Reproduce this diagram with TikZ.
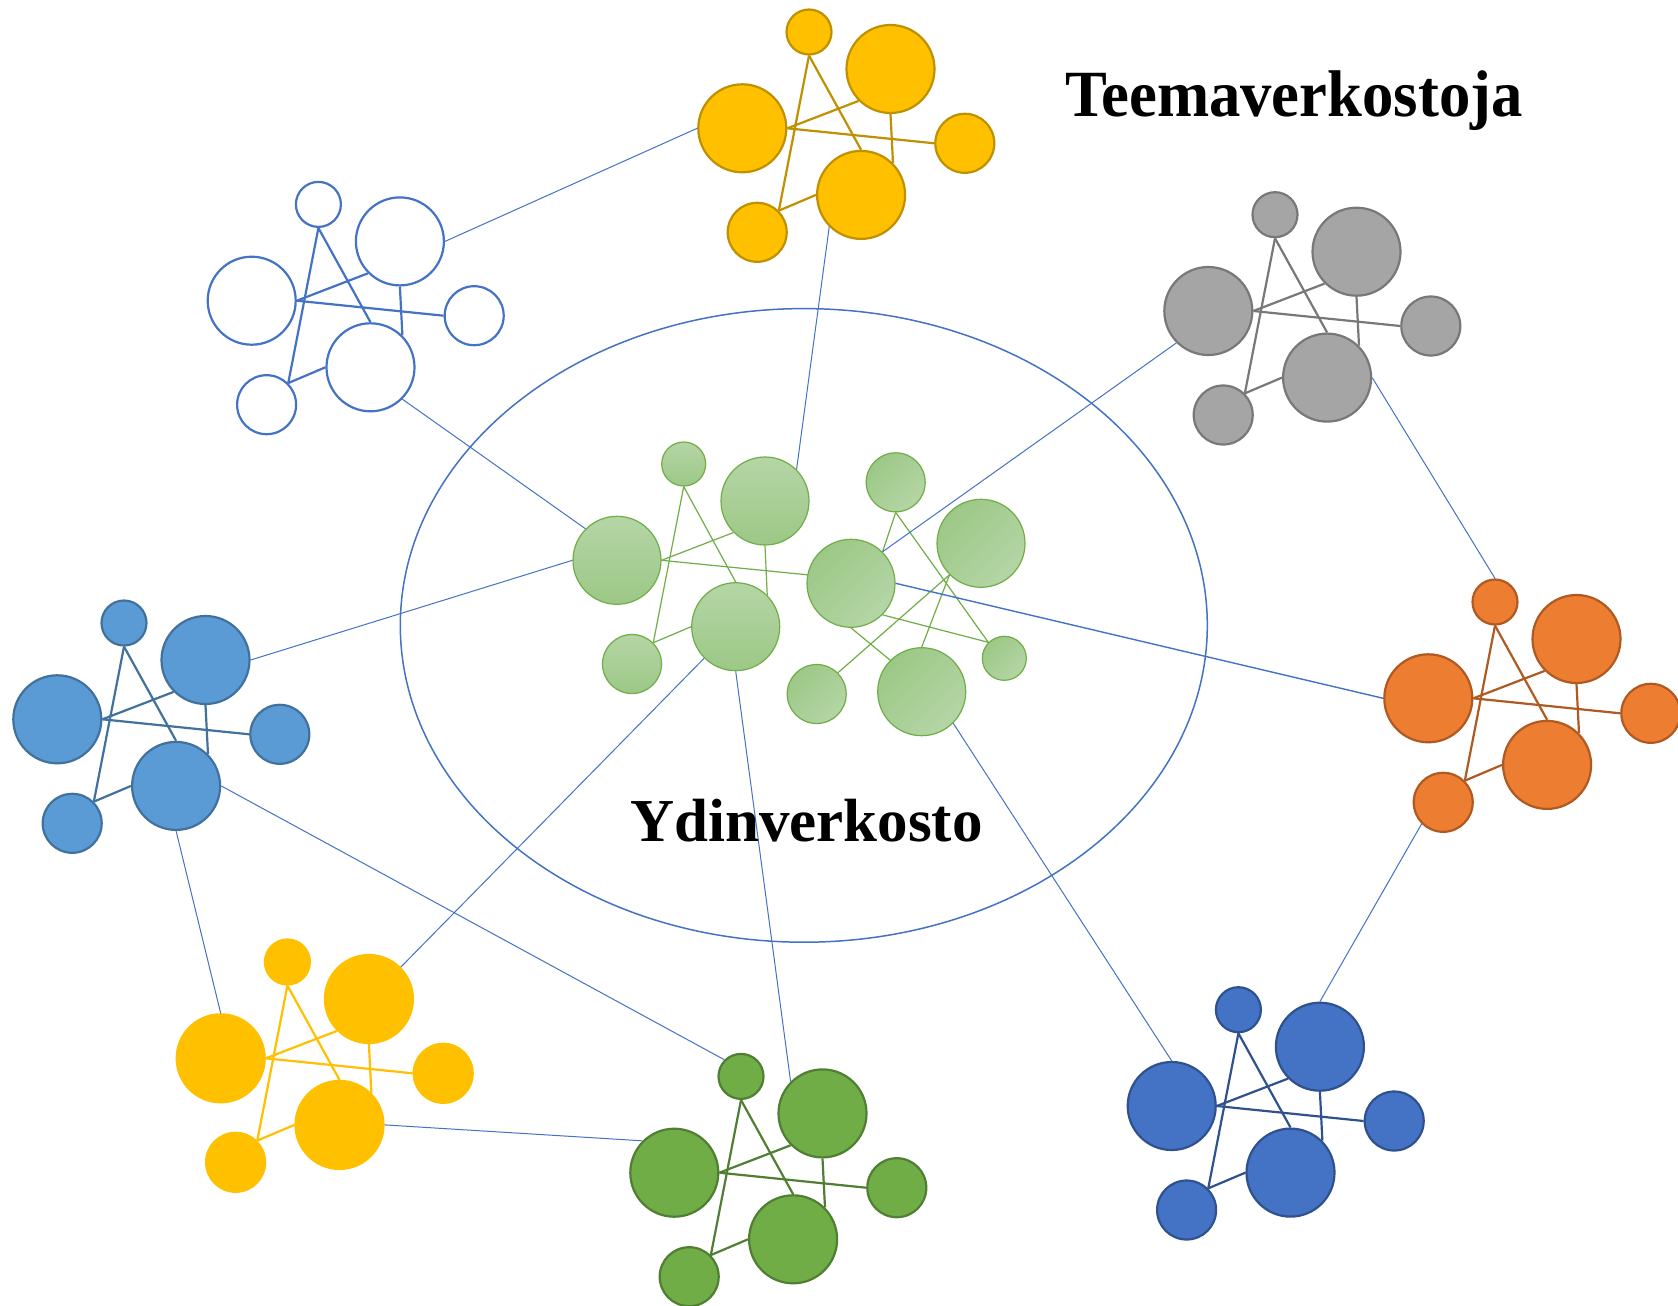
\documentclass[tikz,border=0pt]{standalone}
\usepackage{fontspec}
\usepackage{graphicx}
\usetikzlibrary{shapes.geometric}
\setmainfont{Liberation Serif}
\definecolor{goldfill}{HTML}{FFC000}
\definecolor{goldline}{HTML}{BF9000}
\definecolor{bluemain}{HTML}{4472C4}
\definecolor{lbluefill}{HTML}{5B9BD5}
\definecolor{lblueline}{HTML}{41719C}
\definecolor{grayfill}{HTML}{A5A5A5}
\definecolor{grayline}{HTML}{787878}
\definecolor{orangefill}{HTML}{ED7D31}
\definecolor{orangeline}{HTML}{AE5A21}
\definecolor{dgreenfill}{HTML}{70AD47}
\definecolor{dgreenline}{HTML}{507E32}
\definecolor{navyfill}{HTML}{4472C4}
\definecolor{navyline}{HTML}{2F528F}
\definecolor{glight}{HTML}{B5D5A6}
\definecolor{gdark}{HTML}{9CC886}
\definecolor{gline}{HTML}{70AD47}
\tikzset{
  circ/.style={circle, inner sep=0pt, line width=2.2pt},
  bigc/.style={circ, minimum size=88pt},
  smallc/.style={circ, minimum size=59pt},
  tinyc/.style={circ, minimum size=45pt},
  clink/.style={line width=2.2pt},
  tlink/.style={draw=bluemain, line width=1pt},
  gnode/.style={circle, inner sep=0pt, draw=gline, line width=1.2pt},
  gleft/.style={gnode, top color=glight, bottom color=gdark},
  gright/.style={gnode, top color=gdark, bottom color=glight, shading angle=45},
  gbig/.style={minimum size=88pt},
  gsmall/.style={minimum size=59pt},
  gtiny/.style={minimum size=44pt},
  glink/.style={draw=gline, line width=1.2pt},
  lbl/.style={anchor=base west, inner sep=0pt, text=black, font=\bfseries}
}
\newcommand\netcluster[4]{%
  \begin{scope}[shift={#2}]
    \node[bigc, fill=#3, draw=#4] (#1b2) at (0,0) {};
    \node[tinyc, fill=#3, draw=#4] (#1s) at (66.7,96.3) {};
    \node[bigc, fill=#3, draw=#4] (#1b1) at (148.2,59.3) {};
    \node[smallc, fill=#3, draw=#4] (#1s2) at (222.5,-15) {};
    \node[bigc, fill=#3, draw=#4] (#1b3) at (118.8,-66.6) {};
    \node[smallc, fill=#3, draw=#4] (#1s3) at (14.9,-104) {};
    \draw[clink, draw=#4] (#1s.south) -- (#1b3.north);
    \draw[clink, draw=#4] (#1s.south) -- (#1s3.north east);
    \draw[clink, draw=#4] (#1b2.east) -- (#1b1.south west);
    \draw[clink, draw=#4] (#1b2.east) -- (#1s2.west);
    \draw[clink, draw=#4] (#1b1.south) -- (#1b3.north east);
    \draw[clink, draw=#4] (#1s3.north east) -- (#1b3.west);
  \end{scope}}
\begin{document}
\begin{tikzpicture}[x=1pt, y=1pt]
\useasboundingbox (0,0) rectangle (1678,-1306);
\fill[white] (0,0) rectangle (1678,-1306);

% ellipse (core network)
\node[draw=bluemain, line width=1.5pt, ellipse, inner sep=0pt, minimum width=807pt, minimum height=633.6pt] (core) at (803.8,-625.4) {};

% central green network, left part
\node[gleft, gtiny]  (gLs)  at (683.7,-464) {};
\node[gleft, gbig]   (gLb1) at (765,-501) {};
\node[gleft, gbig]   (gLb2) at (617,-560.3) {};
\node[gleft, gbig]   (gLb3) at (735.7,-626.7) {};
\node[gleft, gsmall] (gLs3) at (632,-664) {};
% central green network, right part
\node[gright, gsmall] (gRa) at (895.7,-482.3) {};
\node[gright, gbig]   (gRb) at (981,-543.3) {};
\node[gright, gbig]   (gRc) at (851,-583.3) {};
\node[gright, gtiny]  (gRd) at (1004.3,-658.3) {};
\node[gright, gbig]   (gRe) at (921.7,-691.7) {};
\node[gright, gsmall] (gRf) at (816.7,-694) {};

\draw[glink] (gLs.south) -- (gLb3.north);
\draw[glink] (gLs.south) -- (gLs3.north east);
\draw[glink] (gLb2.east) -- (gLb1.south west);
\draw[glink] (gLb2.east) -- (gRc.169);
\draw[glink] (gLb1.south) -- (gLb3.north east);
\draw[glink] (gLs3.north east) -- (gLb3.west);
\draw[glink] (gRa.south) -- (gRc.north east);
\draw[glink] (gRa.south) -- (gRd.north west);
\draw[glink] (gRb.south west) -- (gRf.north east);
\draw[glink] (gRb.south west) -- (gRe.north);
\draw[glink] (gRc.south east) -- (gRd.north west);
\draw[glink] (gRc.south) -- (gRe.north west);

% theme networks
\netcluster{gT}{(742.3,-128.3)}{goldfill}{goldline}
\netcluster{bO}{(251.7,-300.7)}{white}{bluemain}
\netcluster{lB}{(57.3,-719.3)}{lbluefill}{lblueline}
\netcluster{gy}{(1208.3,-311)}{grayfill}{grayline}
\netcluster{oR}{(1428.3,-698.3)}{orangefill}{orangeline}
\netcluster{gB}{(220.7,-1058.3)}{goldfill}{goldfill}
\netcluster{dG}{(674.3,-1172.7)}{dgreenfill}{dgreenline}
\netcluster{nV}{(1171.7,-1106)}{navyfill}{navyline}

% links between networks
\draw[tlink] (gTb3.south west) -- (gLb1.north east);
\draw[tlink] (bOb1.east) -- (gTb2.west);
\draw[tlink] (bOb3.south east) -- (gLb2.north west);
\draw[tlink] (lBb1.east) -- (gLb2.west);
\draw[tlink] (lBb3.east) -- (dGs.north west);
\draw[tlink] (lBb3.south) -- (gBb2.north);
\draw[tlink] (gLb3.south west) -- (gBb1.north east);
\draw[tlink] (gLb3.south) -- (dGb1.north west);
\draw[tlink] (gBb3.east) -- (dGb2.north west);
\draw[tlink] (gRc.north east) -- (gyb2.south west);
\draw[tlink, line width=1.4pt] (gRc.east) -- (oRb2.west);
\draw[tlink] (gRe.south east) -- (nVb2.north);
\draw[tlink] (gyb3.east) -- (oRs.north);
\draw[tlink] (oRs3.south west) -- (nVb1.north);

% labels
\node[lbl, font=\bfseries\fontsize{66}{70}\selectfont] (tl) at (1065,-116.7) {\scalebox{0.95}[1]{Teemaverkostoja}};
\node[lbl, font=\bfseries\fontsize{61}{64}\selectfont] (yl) at (630,-841.7) {Ydinverkosto};
\end{tikzpicture}
\end{document}
